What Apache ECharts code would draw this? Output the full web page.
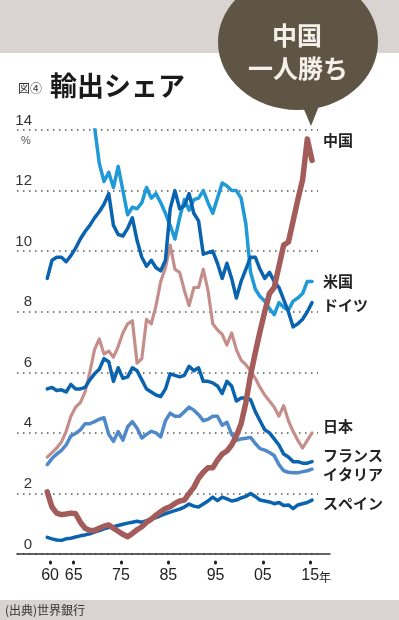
<!DOCTYPE html>
<html lang="ja">
<head>
  <meta charset="UTF-8">
  <title>輸出シェア</title>
  <script src="https://cdn.jsdelivr.net/npm/echarts@6/dist/echarts.min.js"></script>
  <style>
    html, body { margin: 0; padding: 0; background: #fff; }
    #main { width: 399px; height: 620px; }
  </style>
</head>
<body>
  <div id="main"></div>
  <script>
    // 1960 - 2016, world export share (%)
    var years = [1960, 1961, 1962, 1963, 1964, 1965, 1966, 1967, 1968, 1969,
      1970, 1971, 1972, 1973, 1974, 1975, 1976, 1977, 1978, 1979,
      1980, 1981, 1982, 1983, 1984, 1985, 1986, 1987, 1988, 1989,
      1990, 1991, 1992, 1993, 1994, 1995, 1996, 1997, 1998, 1999,
      2000, 2001, 2002, 2003, 2004, 2005, 2006, 2007, 2008, 2009,
      2010, 2011, 2012, 2013, 2014, 2015, 2016]

    var china = [2.05, 1.55, 1.35, 1.30, 1.32, 1.35, 1.33, 1.05, 0.85, 0.78,
      0.78, 0.85, 0.92, 0.96, 0.85, 0.75, 0.65, 0.57, 0.68, 0.80,
      0.90, 1.05, 1.15, 1.28, 1.40, 1.50, 1.56, 1.67, 1.75, 1.78,
      2.00, 2.20, 2.50, 2.70, 2.85, 2.85, 3.10, 3.30, 3.40, 3.60,
      3.90, 4.30, 5.00, 5.90, 6.65, 7.35, 8.00, 8.60, 8.80, 9.50,
      10.20, 10.30, 11.00, 11.70, 12.35, 13.70, 13.00]
    var usa = [16.2, 16.0, 15.6, 15.4, 15.6, 15.0, 14.9, 14.9, 14.6, 14.4,
      14.1, 12.9, 12.3, 12.6, 12.1, 12.8, 12.0, 11.2, 11.45, 11.4,
      11.6, 12.1, 11.75, 11.9, 11.6, 11.25, 10.85, 10.4, 11.1, 11.7,
      11.35, 11.7, 11.75, 12.0, 11.6, 11.25, 11.75, 12.25, 12.15, 12.0,
      12.0, 11.75, 10.9, 9.3, 8.75, 8.5, 8.35, 8.1, 7.9, 8.3,
      8.15, 8.05, 8.35, 8.45, 8.6, 9.0, 9.0]
    var germany = [9.1, 9.7, 9.8, 9.8, 9.65, 9.85, 10.1, 10.4, 10.65, 10.85,
      11.1, 11.3, 11.55, 11.9, 10.85, 10.55, 10.5, 10.75, 11.1, 10.35,
      9.8, 9.5, 9.7, 9.45, 9.35, 9.7, 11.4, 12.0, 11.4, 11.5,
      11.9, 11.25, 11.0, 9.9, 9.95, 10.0, 9.6, 9.1, 9.6, 9.1,
      8.45, 9.0, 9.4, 9.8, 9.8, 9.4, 9.1, 9.3, 9.0, 8.8,
      8.4, 8.0, 7.5, 7.6, 7.75, 8.0, 8.3]
    var japan = [3.2, 3.35, 3.5, 3.7, 4.05, 4.55, 4.85, 5.0, 5.35, 6.0,
      6.75, 7.1, 6.6, 6.7, 6.5, 6.85, 7.3, 7.6, 7.7, 6.3,
      6.45, 7.75, 7.6, 8.2, 9.0, 9.45, 10.2, 9.4, 9.3, 8.7,
      8.2, 8.8, 8.8, 9.4, 8.7, 7.6, 7.4, 7.25, 6.9, 7.3,
      6.75, 6.4, 6.25, 6.05, 5.8, 5.5, 5.25, 5.05, 4.85, 4.55,
      4.9, 4.4, 4.05, 3.75, 3.5, 3.75, 4.0]
    var france = [5.45, 5.5, 5.4, 5.42, 5.35, 5.6, 5.45, 5.45, 5.5, 5.75,
      5.95, 6.1, 6.45, 6.35, 5.7, 6.15, 5.8, 5.85, 6.15, 6.05,
      5.75, 5.45, 5.35, 5.25, 5.2, 5.45, 5.95, 5.9, 5.85, 5.9,
      6.2, 6.05, 6.15, 5.7, 5.7, 5.65, 5.55, 5.3, 5.7, 5.55,
      5.05, 5.15, 5.15, 5.1, 4.7, 4.4, 4.1, 4.0, 3.8, 3.6,
      3.3, 3.2, 3.05, 3.05, 3.0, 3.0, 3.05]
    var italy = [2.95, 3.15, 3.3, 3.42, 3.6, 3.9, 3.98, 4.1, 4.3, 4.3,
      4.37, 4.45, 4.5, 3.95, 3.72, 4.04, 3.76, 4.2, 4.37, 4.15,
      3.83, 3.95, 4.05, 4.0, 3.87, 4.4, 4.65, 4.55, 4.55, 4.7,
      4.85, 4.75, 4.6, 4.4, 4.45, 4.55, 4.55, 4.25, 4.35, 3.95,
      3.75, 3.8, 3.82, 3.85, 3.65, 3.48, 3.43, 3.35, 3.25, 2.95,
      2.75, 2.7, 2.68, 2.68, 2.72, 2.75, 2.8]
    var spain = [0.55, 0.5, 0.46, 0.45, 0.5, 0.52, 0.56, 0.6, 0.63, 0.67,
      0.72, 0.77, 0.83, 0.87, 0.9, 0.94, 0.98, 1.02, 1.05, 1.08,
      1.05, 1.1, 1.15, 1.2, 1.27, 1.33, 1.38, 1.43, 1.48, 1.55,
      1.65, 1.58, 1.55, 1.65, 1.75, 1.88, 1.76, 1.88, 1.82, 1.75,
      1.78, 1.85, 1.9, 2.0, 1.9, 1.78, 1.75, 1.72, 1.66, 1.7,
      1.6, 1.62, 1.5, 1.62, 1.66, 1.7, 1.78]

    var tickYears = [1960, 1965, 1975, 1985, 1995, 2005, 2015]
    var tickLabels = ['60', '65', '75', '85', '95', '05', '15']

    var numFont = "'Liberation Sans Narrow', 'Liberation Sans', Arial, sans-serif"
    var jpFont = "'Noto Sans CJK JP', 'Noto Sans', sans-serif"

    var pair = arr => arr.map((v, i) => [years[i], v])
    var tickPos = tickYears.map(y => y + 0.6)

    // name, data, colour, width, end label offset
    var lines = [
      ['日本', japan, '#c48f8b', 3.2, -7],
      ['イタリア', italy, '#4f89c9', 3.5, 5],
      ['スペイン', spain, '#0a63ae', 3.5, 3],
      ['フランス', france, '#0a63ae', 3.5, -6],
      ['米国', usa, '#1f9ad6', 3.5, 0],
      ['ドイツ', germany, '#0a63ae', 3.5, 3],
      ['中国', china, '#a35c5a', 5.5, -20]
    ]

    var chart = echarts.init(document.getElementById('main'))

    chart.setOption({
      animation: false,
      backgroundColor: '#fff',
      grid: [
        { left: 17, right: 69, top: 130, bottom: 66 },
        { left: 17, right: 81, top: 130, bottom: 66 }
      ],
      xAxis: [
        {
          type: 'value', gridIndex: 0, min: 1953.6, max: 2019.8,
          splitLine: { show: false },
          axisLine: { lineStyle: { color: '#333', width: 1.5 } },
          axisTick: { show: false },
          axisLabel: {
            customValues: tickPos,
            margin: 14,
            color: '#222',
            fontSize: 16,
            fontFamily: numFont,
            formatter: v => {
              var i = tickPos.indexOf(v)
              var s = tickLabels[i]
              return i == tickLabels.length - 1 ? '{p|}' + s + '{u|年}' : s
            },
            rich: {
              p: { width: 12 },
              u: { fontSize: 12, fontFamily: jpFont, color: '#222', padding: [2, 0, 0, 0] }
            }
          }
        },
        {
          type: 'value', gridIndex: 0, min: 1953.6, max: 2019.8,
          position: 'bottom', offset: 8,
          splitLine: { show: false },
          axisLine: { show: false },
          axisLabel: { show: false },
          axisTick: {
            customValues: tickPos,
            length: 1,
            lineStyle: { color: '#222', width: 3, cap: 'round' }
          }
        },
        { type: 'value', gridIndex: 1, show: false, min: 0, max: 1 }
      ],
      yAxis: [
        { type: 'value', gridIndex: 0, min: 0, max: 14, show: false },
        {
          type: 'value', gridIndex: 1, min: 0, max: 14, interval: 2,
          axisLine: { show: false },
          axisTick: { show: false },
          splitLine: { lineStyle: { color: '#555', width: 1.5, type: [1.5, 4.5] } },
          axisLabel: {
            inside: true,
            margin: 15,
            align: 'right',
            verticalAlign: 'bottom',
            padding: [0, 0, 2, 0],
            color: '#333',
            fontSize: 15,
            fontFamily: numFont
          }
        }
      ],
      series: lines.map(l => ({
        name: l[0],
        type: 'line',
        xAxisIndex: 0,
        yAxisIndex: 0,
        data: pair(l[1]),
        symbol: 'none',
        silent: true,
        clip: true,
        lineStyle: { color: l[2], width: l[3], cap: 'round', join: 'round' },
        endLabel: {
          show: true,
          formatter: l[0],
          distance: 11,
          offset: [0, l[4]],
          color: '#222',
          fontSize: 15,
          fontWeight: 'bold',
          fontFamily: jpFont
        }
      })),
      graphic: [
        { type: 'rect', shape: { x: 0, y: 0, width: 399, height: 53 }, style: { fill: '#d9d4d1' }, silent: true },
        { type: 'rect', shape: { x: 0, y: 600, width: 399, height: 20 }, style: { fill: '#d9d4d1' }, silent: true },
        { type: 'ellipse', shape: { cx: 298, cy: 42, rx: 80, ry: 68 }, style: { fill: '#5e5545' }, silent: true },
        { type: 'polygon', shape: { points: [[300, 100], [323, 96], [311, 126]] }, style: { fill: '#5e5545' }, silent: true },
        {
          type: 'text', x: 297, y: 35,
          style: { text: '中国', fill: '#f5f1ea', font: 'bold 25px ' + jpFont, align: 'center', verticalAlign: 'middle' }
        },
        {
          type: 'text', x: 298, y: 68,
          style: { text: '一人勝ち', fill: '#f5f1ea', font: 'bold 25px ' + jpFont, align: 'center', verticalAlign: 'middle' }
        },
        {
          type: 'text', x: 18, y: 88,
          style: { text: '図④', fill: '#333', font: '12px ' + jpFont, verticalAlign: 'middle' }
        },
        {
          type: 'text', x: 50, y: 86,
          style: { text: '輸出シェア', fill: '#1a1a1a', font: 'bold 27px ' + jpFont, verticalAlign: 'middle' }
        },
        {
          type: 'text', x: 21, y: 141,
          style: { text: '%', fill: '#555', font: '11px ' + numFont, verticalAlign: 'middle' }
        },
        {
          type: 'text', x: 5, y: 610,
          style: { text: '(出典)世界銀行', fill: '#333', font: '12px ' + jpFont, verticalAlign: 'middle' }
        }
      ]
    })
  </script>
</body>
</html>
